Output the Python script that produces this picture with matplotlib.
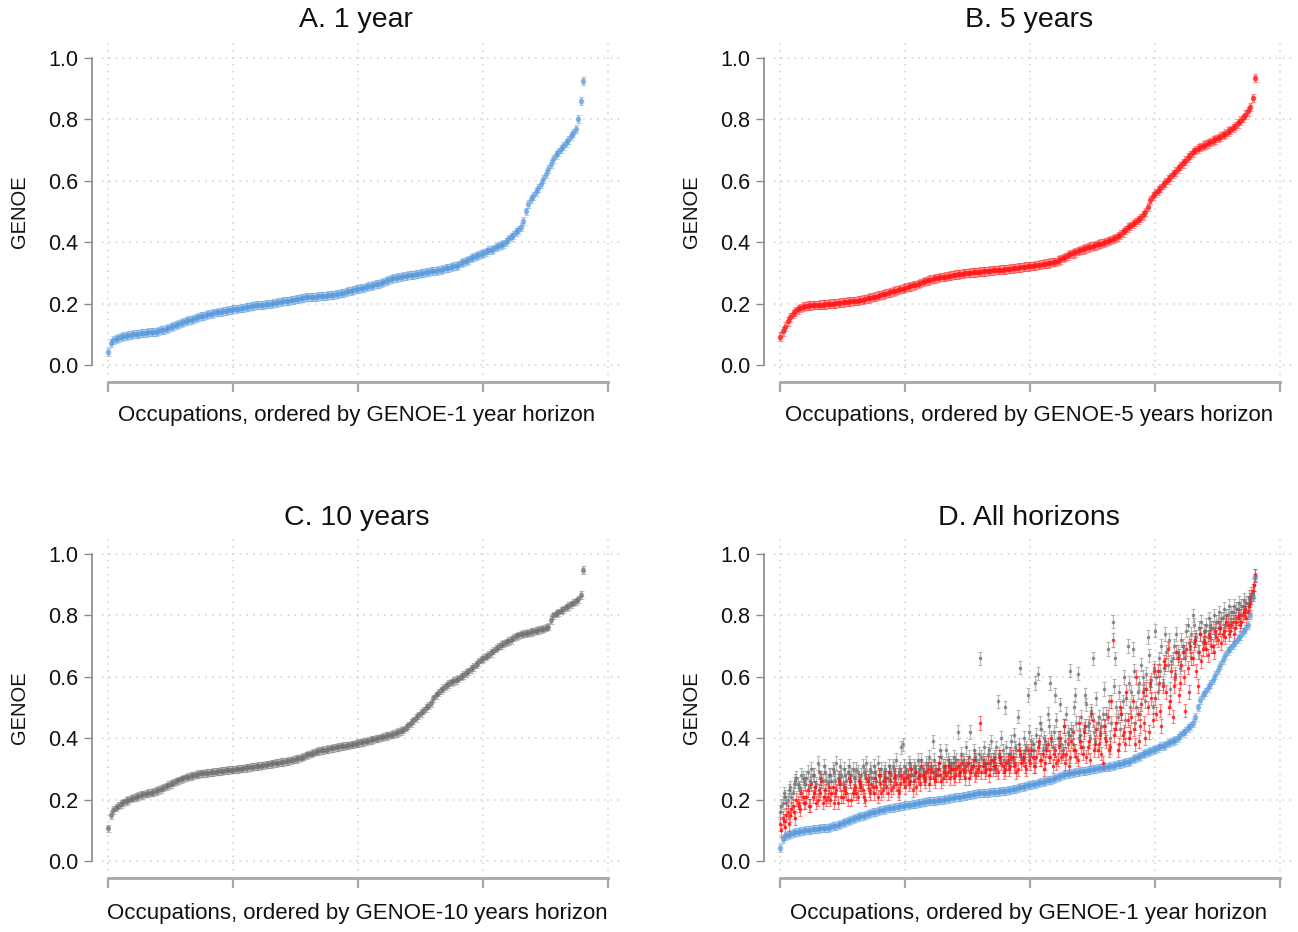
import numpy as np
import matplotlib
matplotlib.use("Agg")
import matplotlib.pyplot as plt

plt.rcParams['font.family'] = ['Liberation Sans', 'DejaVu Sans']

# ---------------- data ----------------
STEP = 4   # one value every 4th occupation (occupations 0, 4, 8, ...)

genoe_1y_sorted = [
    0.043, 0.072, 0.082, 0.086, 0.089, 0.091, 0.093, 0.095, 0.097, 0.098,
    0.100, 0.101, 0.102, 0.103, 0.104, 0.105, 0.106, 0.107, 0.108, 0.109,
    0.111, 0.113, 0.115, 0.118, 0.121, 0.124, 0.127, 0.130, 0.133, 0.137,
    0.140, 0.143, 0.146, 0.148, 0.151, 0.153, 0.156, 0.158, 0.161, 0.163,
    0.165, 0.167, 0.169, 0.171, 0.172, 0.174, 0.175, 0.177, 0.178, 0.180,
    0.181, 0.183, 0.184, 0.186, 0.187, 0.188, 0.190, 0.191, 0.193, 0.194,
    0.195, 0.196, 0.197, 0.198, 0.199, 0.200, 0.201, 0.203, 0.204, 0.205,
    0.207, 0.208, 0.210, 0.211, 0.213, 0.214, 0.216, 0.217, 0.219, 0.220,
    0.221, 0.222, 0.222, 0.223, 0.224, 0.224, 0.225, 0.226, 0.227, 0.228,
    0.229, 0.230, 0.232, 0.234, 0.236, 0.238, 0.240, 0.242, 0.244, 0.246,
    0.248, 0.250, 0.252, 0.254, 0.256, 0.258, 0.260, 0.263, 0.265, 0.268,
    0.271, 0.274, 0.277, 0.280, 0.282, 0.284, 0.286, 0.288, 0.289, 0.291,
    0.292, 0.293, 0.294, 0.296, 0.297, 0.299, 0.300, 0.302, 0.303, 0.305,
    0.306, 0.307, 0.309, 0.311, 0.313, 0.315, 0.317, 0.319, 0.321, 0.324,
    0.327, 0.331, 0.335, 0.339, 0.343, 0.347, 0.351, 0.355, 0.358, 0.362,
    0.366, 0.369, 0.373, 0.376, 0.379, 0.383, 0.386, 0.390, 0.395, 0.402,
    0.410, 0.418, 0.425, 0.432, 0.440, 0.450, 0.470, 0.500, 0.525, 0.540,
    0.552, 0.563, 0.575, 0.588, 0.605, 0.622, 0.640, 0.656, 0.670, 0.683,
    0.694, 0.703, 0.712, 0.722, 0.733, 0.745, 0.756, 0.768, 0.800, 0.860,
    0.925,
]

genoe_5y_sorted = [
    0.092, 0.110, 0.125, 0.142, 0.155, 0.166, 0.175, 0.181, 0.186, 0.190,
    0.192, 0.193, 0.194, 0.195, 0.195, 0.196, 0.197, 0.197, 0.198, 0.199,
    0.200, 0.200, 0.201, 0.202, 0.203, 0.204, 0.205, 0.206, 0.207, 0.208,
    0.209, 0.210, 0.212, 0.213, 0.215, 0.217, 0.219, 0.221, 0.223, 0.226,
    0.228, 0.230, 0.232, 0.235, 0.237, 0.240, 0.242, 0.244, 0.247, 0.249,
    0.252, 0.254, 0.256, 0.259, 0.261, 0.264, 0.267, 0.270, 0.273, 0.276,
    0.278, 0.280, 0.282, 0.284, 0.286, 0.287, 0.288, 0.290, 0.291, 0.293,
    0.294, 0.295, 0.297, 0.298, 0.299, 0.300, 0.301, 0.302, 0.302, 0.303,
    0.304, 0.305, 0.305, 0.306, 0.307, 0.308, 0.309, 0.310, 0.311, 0.311,
    0.312, 0.313, 0.314, 0.315, 0.316, 0.317, 0.318, 0.319, 0.320, 0.321,
    0.322, 0.323, 0.325, 0.326, 0.327, 0.329, 0.330, 0.331, 0.333, 0.335,
    0.336, 0.340, 0.344, 0.348, 0.352, 0.357, 0.361, 0.364, 0.367, 0.371,
    0.374, 0.377, 0.380, 0.383, 0.385, 0.388, 0.390, 0.393, 0.395, 0.398,
    0.401, 0.404, 0.407, 0.411, 0.414, 0.419, 0.425, 0.432, 0.440, 0.448,
    0.453, 0.459, 0.466, 0.472, 0.479, 0.487, 0.498, 0.515, 0.537, 0.551,
    0.560, 0.568, 0.577, 0.586, 0.595, 0.604, 0.613, 0.622, 0.630, 0.639,
    0.648, 0.657, 0.666, 0.675, 0.684, 0.693, 0.700, 0.705, 0.710, 0.714,
    0.718, 0.722, 0.726, 0.731, 0.735, 0.740, 0.744, 0.749, 0.754, 0.760,
    0.766, 0.772, 0.779, 0.787, 0.796, 0.805, 0.815, 0.826, 0.840, 0.870,
    0.935,
]

genoe_10y_sorted = [
    0.106, 0.150, 0.166, 0.174, 0.180, 0.186, 0.191, 0.195, 0.199, 0.203,
    0.206, 0.209, 0.212, 0.215, 0.217, 0.219, 0.221, 0.223, 0.225, 0.228,
    0.231, 0.235, 0.239, 0.243, 0.247, 0.251, 0.255, 0.259, 0.263, 0.266,
    0.269, 0.272, 0.275, 0.277, 0.279, 0.281, 0.283, 0.285, 0.286, 0.287,
    0.288, 0.289, 0.290, 0.291, 0.292, 0.293, 0.294, 0.295, 0.296, 0.297,
    0.298, 0.299, 0.300, 0.301, 0.302, 0.303, 0.305, 0.306, 0.307, 0.308,
    0.310, 0.311, 0.312, 0.314, 0.315, 0.316, 0.318, 0.319, 0.320, 0.322,
    0.323, 0.325, 0.326, 0.328, 0.330, 0.332, 0.334, 0.337, 0.340, 0.344,
    0.347, 0.350, 0.353, 0.356, 0.358, 0.360, 0.362, 0.363, 0.365, 0.367,
    0.368, 0.370, 0.371, 0.373, 0.374, 0.376, 0.377, 0.379, 0.380, 0.382,
    0.384, 0.386, 0.388, 0.390, 0.392, 0.394, 0.396, 0.398, 0.400, 0.403,
    0.405, 0.407, 0.409, 0.411, 0.414, 0.417, 0.420, 0.423, 0.428, 0.434,
    0.442, 0.450, 0.458, 0.466, 0.474, 0.482, 0.490, 0.498, 0.506, 0.514,
    0.530, 0.540, 0.548, 0.556, 0.563, 0.570, 0.577, 0.582, 0.586, 0.590,
    0.594, 0.600, 0.606, 0.612, 0.618, 0.625, 0.632, 0.640, 0.648, 0.656,
    0.661, 0.666, 0.672, 0.678, 0.685, 0.692, 0.698, 0.703, 0.708, 0.712,
    0.716, 0.720, 0.727, 0.732, 0.735, 0.738, 0.740, 0.742, 0.744, 0.746,
    0.748, 0.750, 0.752, 0.755, 0.757, 0.760, 0.763, 0.785, 0.800, 0.806,
    0.810, 0.815, 0.820, 0.826, 0.831, 0.836, 0.841, 0.846, 0.852, 0.866,
    0.948,
]

# Panel D: 5-year and 10-year GENOE with occupations in the 1-year order.
# "_a" = occupations 0, 4, 8, ...; "_b" = occupations 2, 6, 10, ...
genoe_5y_by_1y_a = [
    0.12, 0.14, 0.11, 0.16, 0.15, 0.18, 0.14, 0.19, 0.17, 0.21,
    0.19, 0.23, 0.18, 0.21, 0.24, 0.20, 0.22, 0.19, 0.23, 0.21,
    0.20, 0.24, 0.22, 0.19, 0.25, 0.21, 0.23, 0.20, 0.26, 0.22,
    0.24, 0.21, 0.25, 0.23, 0.20, 0.26, 0.22, 0.24, 0.27, 0.21,
    0.25, 0.23, 0.27, 0.22, 0.26, 0.24, 0.28, 0.23, 0.25, 0.27,
    0.24, 0.28, 0.26, 0.23, 0.29, 0.27, 0.25, 0.28, 0.26, 0.30,
    0.27, 0.29, 0.26, 0.30, 0.28, 0.27, 0.31, 0.29, 0.27, 0.30,
    0.28, 0.31, 0.29, 0.30, 0.27, 0.32, 0.29, 0.31, 0.28, 0.30,
    0.45, 0.31, 0.29, 0.32, 0.30, 0.33, 0.31, 0.29, 0.34, 0.31,
    0.30, 0.33, 0.31, 0.34, 0.32, 0.30, 0.35, 0.33, 0.31, 0.36,
    0.32, 0.34, 0.31, 0.37, 0.33, 0.35, 0.32, 0.38, 0.34, 0.31,
    0.36, 0.33, 0.40, 0.35, 0.32, 0.38, 0.34, 0.42, 0.36, 0.33,
    0.39, 0.35, 0.44, 0.37, 0.33, 0.46, 0.38, 0.36, 0.41, 0.32,
    0.40, 0.47, 0.37, 0.72, 0.43, 0.36, 0.50, 0.41, 0.38, 0.46,
    0.42, 0.52, 0.38, 0.48, 0.44, 0.55, 0.40, 0.50, 0.58, 0.46,
    0.53, 0.62, 0.49, 0.57, 0.64, 0.69, 0.52, 0.47, 0.60, 0.66,
    0.58, 0.68, 0.49, 0.63, 0.70, 0.66, 0.72, 0.57, 0.74, 0.69,
    0.71, 0.67, 0.73, 0.70, 0.75, 0.72, 0.76, 0.74, 0.73, 0.77,
    0.75, 0.78, 0.76, 0.79, 0.77, 0.80, 0.82, 0.81, 0.84, 0.88,
    0.93,
]

genoe_5y_by_1y_b = [
    0.10, 0.13, 0.15, 0.12, 0.17, 0.16, 0.20, 0.18, 0.22, 0.19,
    0.21, 0.18, 0.25, 0.22, 0.19, 0.23, 0.26, 0.21, 0.20, 0.24,
    0.22, 0.19, 0.23, 0.26, 0.21, 0.24, 0.22, 0.27, 0.20, 0.23,
    0.22, 0.26, 0.24, 0.21, 0.27, 0.23, 0.25, 0.22, 0.24, 0.28,
    0.22, 0.26, 0.24, 0.29, 0.23, 0.27, 0.25, 0.22, 0.28, 0.26,
    0.27, 0.25, 0.30, 0.26, 0.24, 0.28, 0.31, 0.27, 0.29, 0.25,
    0.30, 0.27, 0.28, 0.32, 0.26, 0.29, 0.28, 0.31, 0.30, 0.27,
    0.30, 0.28, 0.32, 0.29, 0.31, 0.27, 0.30, 0.33, 0.29, 0.31,
    0.29, 0.32, 0.30, 0.28, 0.33, 0.31, 0.30, 0.34, 0.32, 0.29,
    0.32, 0.30, 0.34, 0.31, 0.29, 0.36, 0.32, 0.34, 0.30, 0.33,
    0.36, 0.31, 0.34, 0.39, 0.33, 0.30, 0.36, 0.34, 0.40, 0.35,
    0.32, 0.37, 0.34, 0.44, 0.35, 0.31, 0.39, 0.36, 0.34, 0.45,
    0.37, 0.42, 0.34, 0.39, 0.48, 0.36, 0.43, 0.38, 0.35, 0.44,
    0.39, 0.36, 0.52, 0.41, 0.45, 0.38, 0.48, 0.42, 0.55, 0.40,
    0.47, 0.43, 0.60, 0.39, 0.51, 0.45, 0.56, 0.42, 0.53, 0.62,
    0.48, 0.58, 0.44, 0.65, 0.55, 0.50, 0.62, 0.57, 0.68, 0.54,
    0.64, 0.60, 0.69, 0.55, 0.66, 0.71, 0.62, 0.68, 0.65, 0.72,
    0.69, 0.74, 0.70, 0.68, 0.73, 0.76, 0.71, 0.75, 0.78, 0.74,
    0.77, 0.74, 0.78, 0.80, 0.78, 0.81, 0.79, 0.83, 0.86, 0.90,
]

genoe_10y_by_1y_a = [
    0.16, 0.19, 0.21, 0.20, 0.24, 0.22, 0.26, 0.25, 0.23, 0.27,
    0.25, 0.29, 0.26, 0.28, 0.24, 0.32, 0.27, 0.26, 0.29, 0.25,
    0.28, 0.30, 0.26, 0.27, 0.31, 0.25, 0.28, 0.29, 0.26, 0.30,
    0.27, 0.29, 0.25, 0.31, 0.28, 0.26, 0.30, 0.27, 0.29, 0.32,
    0.28, 0.26, 0.30, 0.27, 0.29, 0.31, 0.27, 0.28, 0.30, 0.38,
    0.29, 0.27, 0.31, 0.28, 0.30, 0.33, 0.28, 0.30, 0.27, 0.31,
    0.29, 0.39, 0.30, 0.28, 0.36, 0.31, 0.29, 0.33, 0.30, 0.32,
    0.31, 0.42, 0.29, 0.33, 0.30, 0.32, 0.42, 0.31, 0.34, 0.30,
    0.66, 0.33, 0.31, 0.35, 0.32, 0.30, 0.34, 0.52, 0.33, 0.36,
    0.50, 0.32, 0.35, 0.33, 0.37, 0.47, 0.63, 0.34, 0.36, 0.54,
    0.35, 0.38, 0.58, 0.61, 0.45, 0.36, 0.39, 0.48, 0.58, 0.37,
    0.54, 0.40, 0.51, 0.36, 0.39, 0.42, 0.62, 0.38, 0.54, 0.61,
    0.41, 0.37, 0.54, 0.44, 0.40, 0.66, 0.39, 0.45, 0.42, 0.48,
    0.44, 0.69, 0.40, 0.78, 0.66, 0.47, 0.43, 0.52, 0.46, 0.70,
    0.50, 0.69, 0.45, 0.55, 0.48, 0.60, 0.52, 0.73, 0.57, 0.50,
    0.75, 0.55, 0.62, 0.58, 0.74, 0.64, 0.56, 0.66, 0.61, 0.68,
    0.63, 0.70, 0.66, 0.77, 0.69, 0.80, 0.72, 0.68, 0.74, 0.71,
    0.75, 0.73, 0.77, 0.76, 0.74, 0.78, 0.76, 0.79, 0.77, 0.80,
    0.78, 0.81, 0.79, 0.82, 0.80, 0.83, 0.81, 0.84, 0.85, 0.87,
    0.93,
]

genoe_10y_by_1y_b = [
    0.18, 0.22, 0.19, 0.23, 0.21, 0.25, 0.27, 0.24, 0.28, 0.26,
    0.27, 0.24, 0.30, 0.28, 0.25, 0.29, 0.27, 0.31, 0.26, 0.28,
    0.26, 0.29, 0.32, 0.27, 0.28, 0.30, 0.26, 0.31, 0.28, 0.27,
    0.30, 0.26, 0.28, 0.29, 0.32, 0.27, 0.29, 0.31, 0.26, 0.28,
    0.30, 0.29, 0.27, 0.31, 0.28, 0.30, 0.33, 0.29, 0.37, 0.31,
    0.30, 0.32, 0.28, 0.31, 0.29, 0.30, 0.33, 0.29, 0.32, 0.34,
    0.31, 0.33, 0.29, 0.32, 0.34, 0.30, 0.36, 0.32, 0.31, 0.34,
    0.33, 0.31, 0.35, 0.32, 0.37, 0.34, 0.31, 0.36, 0.33, 0.35,
    0.34, 0.37, 0.32, 0.36, 0.39, 0.34, 0.37, 0.35, 0.40, 0.33,
    0.37, 0.35, 0.39, 0.41, 0.36, 0.38, 0.34, 0.40, 0.37, 0.42,
    0.39, 0.36, 0.41, 0.38, 0.43, 0.40, 0.37, 0.44, 0.39, 0.42,
    0.46, 0.40, 0.38, 0.44, 0.48, 0.41, 0.43, 0.50, 0.45, 0.40,
    0.47, 0.43, 0.51, 0.45, 0.49, 0.42, 0.53, 0.47, 0.44, 0.56,
    0.48, 0.52, 0.45, 0.57, 0.50, 0.55, 0.48, 0.60, 0.53, 0.58,
    0.55, 0.62, 0.50, 0.58, 0.64, 0.56, 0.61, 0.67, 0.59, 0.63,
    0.60, 0.66, 0.70, 0.63, 0.68, 0.72, 0.65, 0.70, 0.74, 0.67,
    0.72, 0.68, 0.75, 0.71, 0.74, 0.77, 0.73, 0.76, 0.78, 0.75,
    0.77, 0.79, 0.76, 0.80, 0.78, 0.81, 0.79, 0.82, 0.80, 0.83,
    0.81, 0.83, 0.82, 0.84, 0.83, 0.85, 0.84, 0.86, 0.87, 0.90,
]

titles = ["A. 1 year", "B. 5 years", "C. 10 years", "D. All horizons"]
xlabels = [
    "Occupations, ordered by GENOE-1 year horizon",
    "Occupations, ordered by GENOE-5 years horizon",
    "Occupations, ordered by GENOE-10 years horizon",
    "Occupations, ordered by GENOE-1 year horizon",
]
ylabel = "GENOE"
yticks = [0.0, 0.2, 0.4, 0.6, 0.8, 1.0]
xticks = [0, 200, 400, 600, 800]

# ---------------- style ----------------
BLUE = "#4f93d8"
RED = "#ff1010"
GRAY = "#6a6a6a"
W, H = 1298, 932

fig = plt.figure(figsize=(W / 100, H / 100), dpi=100)


def rect(x0, y0, x1, y1):
    return [x0 / W, 1 - y1 / H, (x1 - x0) / W, (y1 - y0) / H]


panels = [
    rect(102, 40, 621, 375),
    rect(774, 40, 1293, 375),
    rect(102, 536, 621, 871),
    rect(774, 536, 1293, 871),
]
title_pos = [(356, 20), (1029, 20), (357, 518), (1029, 518)]
xlabel_pos = [(357, 416), (1029, 416), (357, 913), (1029, 913)]
ylabel_pos = [(20, 212), (692, 212), (20, 708), (692, 708)]


def draw(ax, vals, color, ci, ms, bar_alpha, dot_alpha, elw, cap, offset=0):
    x = np.arange(len(vals)) * STEP + offset
    ax.errorbar(x, vals, yerr=ci, fmt="none", ecolor=color, elinewidth=elw,
                capsize=cap, capthick=0.8, alpha=bar_alpha, zorder=3)
    ax.plot(x, vals, linestyle="none", marker="o", ms=ms, mfc=color, mec=color,
            mew=0.0, alpha=dot_alpha, zorder=4)


axes = []
for i, r in enumerate(panels):
    ax = fig.add_axes(r)
    axes.append(ax)
    ax.set_xlim(-9.6, 820.8)
    ax.set_ylim(-0.0326, 1.0586)
    ax.set_xticks(xticks)
    ax.set_xticklabels([])
    ax.set_yticks(yticks)
    ax.set_yticklabels([f"{v:.1f}" for v in yticks])
    for s in ("top", "right"):
        ax.spines[s].set_visible(False)
    ax.spines["left"].set_position(("outward", 7.2))
    ax.spines["bottom"].set_position(("outward", 5.0))
    ax.spines["left"].set_bounds(0, 1)
    ax.spines["bottom"].set_bounds(0, 800)
    ax.spines["left"].set_color("#8a8a8a")
    ax.spines["left"].set_linewidth(1.2)
    ax.spines["bottom"].set_color("#a8a8a8")
    ax.spines["bottom"].set_linewidth(2.0)
    ax.tick_params(axis="y", length=6, width=1.0, color="#8a8a8a", pad=4,
                   labelsize=15.5, labelcolor="#111111")
    ax.tick_params(axis="x", length=7, width=1.6, color="#a8a8a8")
    ax.grid(True, color="#cfcfcf", linestyle=(0, (1, 3.5)), linewidth=1.1, zorder=0)
    ax.set_axisbelow(True)

    fig.text(title_pos[i][0] / W, 1 - title_pos[i][1] / H, titles[i],
             ha="center", va="center", fontsize=20.5, color="#111111")
    fig.text(xlabel_pos[i][0] / W, 1 - xlabel_pos[i][1] / H, xlabels[i],
             ha="center", va="center", fontsize=16, color="#111111")
    fig.text(ylabel_pos[i][0] / W, 1 - ylabel_pos[i][1] / H, ylabel,
             ha="center", va="center", rotation=90, fontsize=14.5, color="#111111")

draw(axes[0], genoe_1y_sorted, BLUE, 0.013, 4.0, 0.4, 0.6, 2.0, 1.8)
draw(axes[1], genoe_5y_sorted, RED, 0.014, 4.0, 0.4, 0.7, 2.0, 1.8)
draw(axes[2], genoe_10y_sorted, GRAY, 0.012, 3.8, 0.4, 0.65, 2.0, 1.8)

for vals, off in ((genoe_10y_by_1y_a, 0), (genoe_10y_by_1y_b, 2)):
    draw(axes[3], vals, GRAY, 0.022, 2.6, 0.45, 0.7, 0.9, 1.6, off)
for vals, off in ((genoe_5y_by_1y_a, 0), (genoe_5y_by_1y_b, 2)):
    draw(axes[3], vals, RED, 0.022, 2.6, 0.5, 0.8, 0.9, 1.6, off)
draw(axes[3], genoe_1y_sorted, BLUE, 0.013, 4.0, 0.4, 0.6, 2.0, 1.8)

fig.savefig("out.png", dpi=100)
